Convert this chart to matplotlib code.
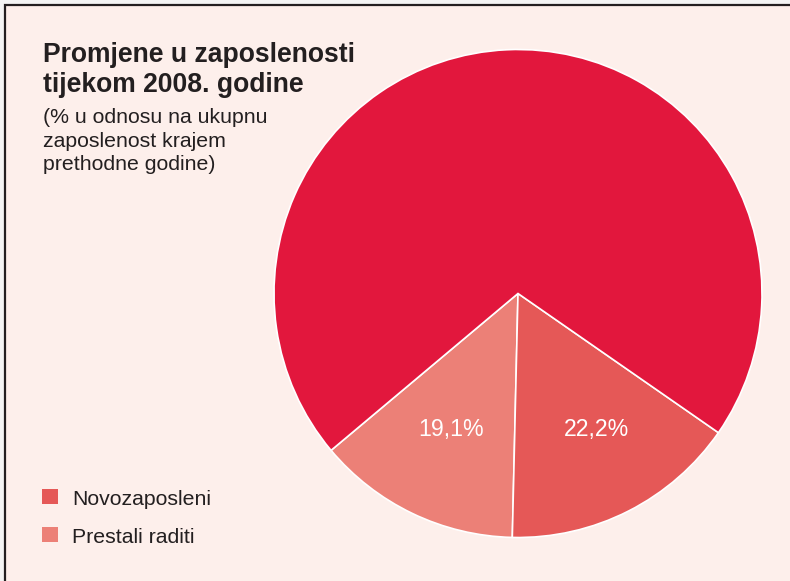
import matplotlib.pyplot as plt
from matplotlib.patches import Rectangle

# podaci
kategorije = ["Prestali raditi", "Novozaposleni", "Ostali"]
vrijednosti = [19.1, 22.2, 100.0]
boje = ["#ec8077", "#e55857", "#e2173d"]
legenda = ["Novozaposleni", "Prestali raditi"]
legenda_boje = ["#e55857", "#ec8077"]

naslov = ["Promjene u zaposlenosti", "tijekom 2008. godine"]
podnaslov = ["(% u odnosu na ukupnu", "zaposlenost krajem", "prethodne godine)"]

plt.rcParams['font.family'] = ['Liberation Sans', 'DejaVu Sans']

W, H = 790, 581
fig = plt.figure(figsize=(W / 100, H / 100), dpi=100, facecolor="#f4f4f4")

# pozadina s okvirom
fig.patches.append(Rectangle((4.5 / W, -0.05), 1.1, (H - 4.5) / H + 0.05,
                             transform=fig.transFigure, facecolor="#fdefeb",
                             edgecolor="#231f20", linewidth=1.6, zorder=-5))

# pita
cx, cy, r = 518, 293.5, 244
ax = fig.add_axes([(cx - r) / W, (H - cy - r) / H, 2 * r / W, 2 * r / H], zorder=2)
total = sum(vrijednosti)


def fmt(p):
    v = p * total / 100
    if v > 50:
        return ""
    return f"{v:.1f}%".replace(".", ",")


wedges, texts, autotexts = ax.pie(vrijednosti, colors=boje, startangle=220,
                                  counterclock=True, autopct=fmt, pctdistance=0.63,
                                  wedgeprops=dict(edgecolor="white", linewidth=1.2),
                                  textprops=dict(color="white", fontsize=16.7))
# oznake poravnate u istu visinu kao u originalu
x0, y0 = autotexts[0].get_position()
autotexts[0].set_position((x0, y0 + 0.01))
x1, y1 = autotexts[1].get_position()
autotexts[1].set_position((x1 + 0.037, y0 + 0.01))
ax.set_xlim(-1, 1)
ax.set_ylim(-1, 1)
ax.set_aspect("equal")
ax.axis("off")

# tekst
for i, red in enumerate(naslov):
    fig.text(43 / W, 1 - (61.7 + i * 30) / H, red, fontsize=19.1, fontweight="bold",
             color="#231f20", va="baseline", ha="left")
for i, red in enumerate(podnaslov):
    fig.text(43 / W, 1 - (123.3 + i * 23.5) / H, red, fontsize=15.3,
             color="#231f20", va="baseline", ha="left")

# legenda
for i, (lab, c) in enumerate(zip(legenda, legenda_boje)):
    y = 489.3 + i * 38
    fig.patches.append(Rectangle((42.3 / W, 1 - (y + 15) / H), 15.4 / W, 15 / H,
                                 transform=fig.transFigure, facecolor=c,
                                 edgecolor="none"))
    fig.text(72.5 / W, 1 - (505 + i * 37.7) / H, lab, fontsize=15.3, color="#231f20",
             va="baseline", ha="left")

fig.savefig("out.png", dpi=100, facecolor=fig.get_facecolor())
